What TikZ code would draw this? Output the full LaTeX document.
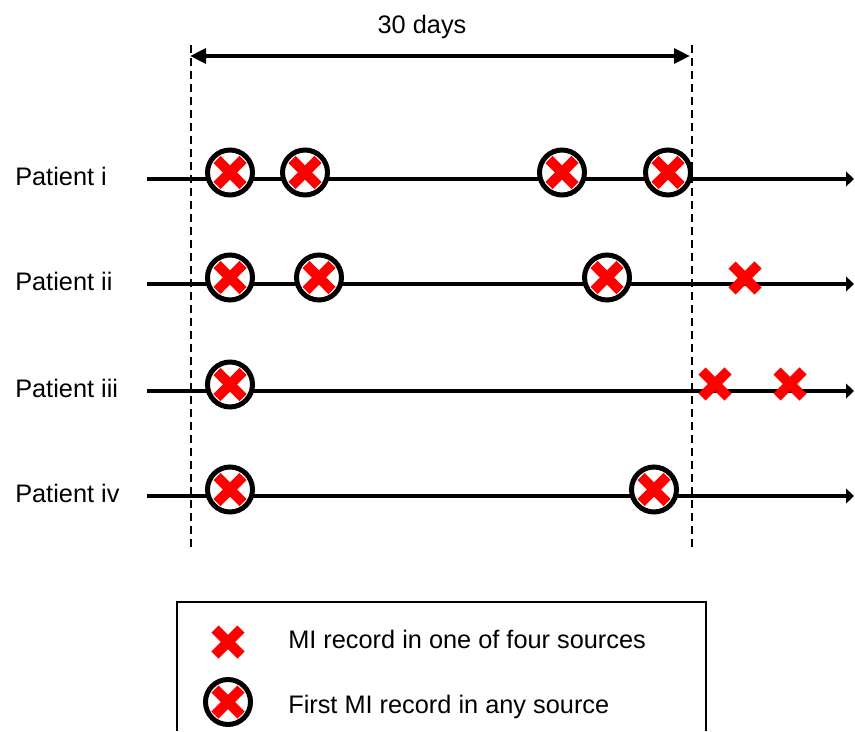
\documentclass[tikz,border=0pt]{standalone}
\usepackage{fontspec}
\setmainfont{Liberation Sans}
\usetikzlibrary{arrows.meta}

\tikzset{
	% red cross for one record
	rec/.style={minimum size=25pt, inner sep=0pt, path picture={
		\draw[red, line width=7.5pt] ([shift={(-9.75pt,-9.75pt)}]path picture bounding box.center) -- ([shift={(9.75pt,9.75pt)}]path picture bounding box.center);
		\draw[red, line width=7.5pt] ([shift={(-9.75pt,9.75pt)}]path picture bounding box.center) -- ([shift={(9.75pt,-9.75pt)}]path picture bounding box.center);
	}},
	% circled cross for the first record
	firstrec/.style={rec, circle, draw=black, fill=white, line width=3.75pt, minimum size=33.75pt},
	label/.style={anchor=base west, inner sep=0pt},
	timeline/.style={line width=2.6pt, -{Triangle[length=6pt,width=11pt]}},
	span/.style={line width=3pt, {Triangle[length=12pt,width=11pt]}-{Triangle[length=12pt,width=11pt]}},
	window/.style={line width=1.5pt, dash pattern=on 6pt off 3.75pt}
}

\begin{document}
\begin{tikzpicture}[x=0.75pt, y=-0.75pt, font=\fontsize{19}{23}\selectfont]
		\useasboundingbox (0,0) rectangle (855,731);
		%%window
		\coordinate (wl1) at (191,45);
		\coordinate (wl2) at (191,548);
		\coordinate (wr1) at (692,45);
		\coordinate (wr2) at (692,548);
		\draw[window] (wl1) -- (wl2);
		\draw[window] (wr1) -- (wr2);
		\coordinate (spl) at (190,56);
		\coordinate (spr) at (690,56);
		\draw[span] (spl) -- (spr);
		\node[anchor=base] (days) at (422,34) {30 days};
		%%patients
		\node[label] (pat1) at (15,185) {Patient i};
		\node[label] (pat2) at (15,290) {Patient ii};
		\node[label] (pat3) at (15,397) {Patient iii};
		\node[label] (pat4) at (15,502) {Patient iv};
		\coordinate (s1) at (147,179);  \coordinate (e1) at (854,179);
		\coordinate (s2) at (147,284);  \coordinate (e2) at (854,284);
		\coordinate (s3) at (147,391);  \coordinate (e3) at (854,391);
		\coordinate (s4) at (147,496);  \coordinate (e4) at (854,496);
		\draw[timeline] (s1) -- (e1);
		\draw[timeline] (s2) -- (e2);
		\draw[timeline] (s3) -- (e3);
		\draw[timeline] (s4) -- (e4);
		%%records
		\node[firstrec] (r1a) at (230,172.5) {};
		\node[firstrec] (r1b) at (305,172.5) {};
		\node[firstrec] (r1c) at (562,172.5) {};
		\node[firstrec] (r1d) at (668,172.5) {};
		\node[firstrec] (r2a) at (230,277.5) {};
		\node[firstrec] (r2b) at (319,277.5) {};
		\node[firstrec] (r2c) at (607,277.5) {};
		\node[rec] (r2d) at (745,278) {};
		\node[firstrec] (r3a) at (230,384.5) {};
		\node[rec] (r3b) at (715,384) {};
		\node[rec] (r3c) at (790,384) {};
		\node[firstrec] (r4a) at (230,489.5) {};
		\node[firstrec] (r4b) at (654,489.5) {};
		%%legend
		\draw[line width=1.5pt] (177,731) |- (706,602) -- (706,731);
		\node[rec] (keyrec) at (228,642) {};
		\node[firstrec] (keyfirst) at (228,702) {};
		\node[label] (keytxt1) at (288,648) {MI record in one of four sources};
		\node[label] (keytxt2) at (288,713) {First MI record in any source};
	\end{tikzpicture}
\end{document}
